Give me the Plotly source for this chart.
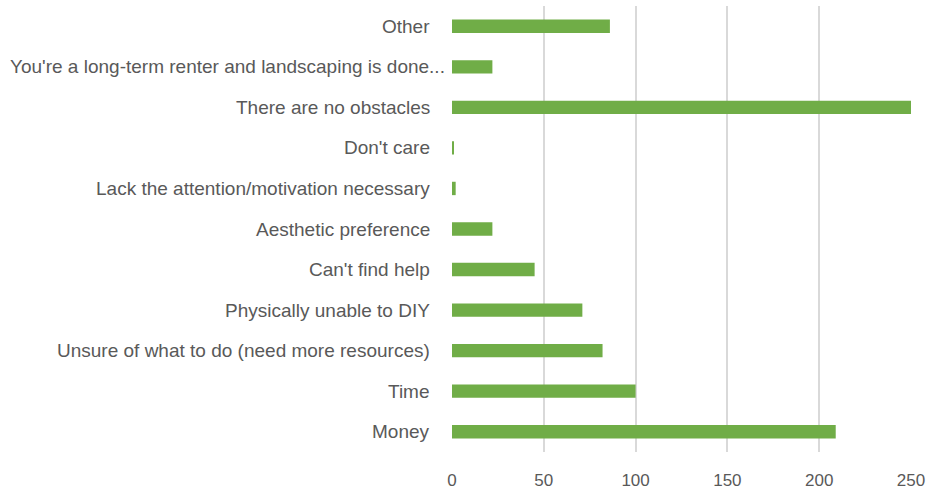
import plotly.graph_objects as go

categories = [
    "Money",
    "Time",
    "Unsure of what to do (need more resources)",
    "Physically unable to DIY",
    "Can't find help",
    "Aesthetic preference",
    "Lack the attention/motivation necessary",
    "Don't care",
    "There are no obstacles",
    "You're a long-term renter and landscaping is done...",
    "Other",
]
counts = [209, 100, 82, 71, 45, 22, 2, 1, 250, 22, 86]
x_ticks = [0, 50, 100, 150, 200, 250]

TEXT = "#595959"
FONT = "Liberation Sans"

fig = go.Figure(
    go.Bar(
        x=counts,
        y=categories,
        orientation="h",
        marker=dict(color="#70AD47", line=dict(width=0)),
        width=0.33,
    )
)

# Category labels drawn as right-aligned text beside the axis; the truncated
# long label sits a little closer to the axis so it fits in the margin.
for cat in categories:
    shift = -5 if cat.endswith("...") else -20
    fig.add_annotation(
        x=0,
        xref="paper",
        y=cat,
        yref="y",
        text=cat,
        showarrow=False,
        xanchor="right",
        yanchor="middle",
        xshift=shift,
        font=dict(family=FONT, color=TEXT, size=19),
    )

fig.update_layout(
    width=930,
    height=489,
    margin=dict(l=452, r=19, t=6, b=37),
    paper_bgcolor="white",
    plot_bgcolor="white",
    showlegend=False,
    font=dict(family=FONT, color=TEXT, size=17),
    xaxis=dict(
        range=[0, 250],
        tickvals=x_ticks,
        showgrid=True,
        gridcolor="#d9d9d9",
        gridwidth=1.5,
        zeroline=False,
        showline=False,
        ticks="",
        ticklabelstandoff=16,
        automargin=False,
        tickfont=dict(family=FONT, color=TEXT, size=17),
    ),
    yaxis=dict(
        categoryorder="array",
        categoryarray=categories,
        showgrid=False,
        zeroline=False,
        showline=False,
        ticks="",
        showticklabels=False,
        automargin=False,
        range=[-0.5, len(categories) - 0.5],
    ),
)

fig.write_html("out.html")
